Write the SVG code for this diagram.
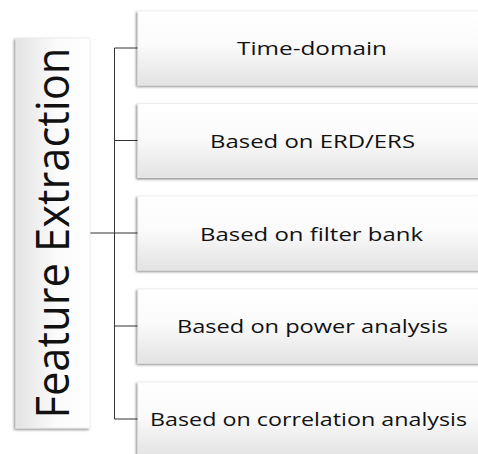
<svg xmlns="http://www.w3.org/2000/svg" width="478" height="454" viewBox="0 0 478 454">
  <defs>
    <linearGradient id="gv" x1="0" y1="0" x2="0" y2="1">
      <stop offset="0" stop-color="#ffffff"/>
      <stop offset="0.45" stop-color="#fbfbfb"/>
      <stop offset="1" stop-color="#e3e3e3"/>
    </linearGradient>
    <linearGradient id="gh" x1="1" y1="0" x2="0" y2="0">
      <stop offset="0" stop-color="#ffffff"/>
      <stop offset="0.45" stop-color="#fbfbfb"/>
      <stop offset="1" stop-color="#e3e3e3"/>
    </linearGradient>
    <filter id="sh" x="-10%" y="-10%" width="120%" height="130%">
      <feDropShadow dx="-1.5" dy="1.5" stdDeviation="1" flood-color="#000" flood-opacity="0.45"/>
    </filter>
  </defs>
  <style>
    .box { fill: url(#gv); stroke: #ececec; stroke-width: 0.8; filter: url(#sh); }
    .root { fill: url(#gh); stroke: #ececec; stroke-width: 0.8; filter: url(#sh); }
    .lbl { font-family: "Open Sans", "Noto Sans", sans-serif; font-size: 18.5px; fill: #111; text-anchor: middle; }
    .title { font-family: "Open Sans", "Noto Sans", sans-serif; font-size: 46px; fill: #111; text-anchor: middle; }
    .conn { stroke: #333; stroke-width: 1; fill: none; }
  </style>
  <rect width="478" height="454" fill="#ffffff"/>
  <g id="connectors">
    <path class="conn" d="M114.5 48 V419"/>
    <path class="conn" d="M90 233 H138"/>
    <path class="conn" d="M114.5 48 H138"/>
    <path class="conn" d="M114.5 140.5 H138"/>
    <path class="conn" d="M114.5 326 H138"/>
    <path class="conn" d="M114.5 419 H138"/>
  </g>
  <g id="root">
    <rect class="root" x="16" y="38" width="74" height="390"/>
    <text class="title" transform="translate(68.5,233) rotate(-90)" x="0" y="0" textLength="371" lengthAdjust="spacingAndGlyphs">Feature Extraction</text>
  </g>
  <g id="n1">
    <rect class="box" x="138" y="11" width="348" height="74"/>
    <text class="lbl" x="312" y="55" textLength="150" lengthAdjust="spacingAndGlyphs">Time-domain</text>
  </g>
  <g id="n2">
    <rect class="box" x="138" y="103.5" width="348" height="74"/>
    <text class="lbl" x="312.5" y="148" textLength="205" lengthAdjust="spacingAndGlyphs">Based on ERD/ERS</text>
  </g>
  <g id="n3">
    <rect class="box" x="138" y="196" width="348" height="74"/>
    <text class="lbl" x="311.5" y="240.5" textLength="223" lengthAdjust="spacingAndGlyphs">Based on filter bank</text>
  </g>
  <g id="n4">
    <rect class="box" x="138" y="289" width="348" height="74"/>
    <text class="lbl" x="312.5" y="333" textLength="271" lengthAdjust="spacingAndGlyphs">Based on power analysis</text>
  </g>
  <g id="n5">
    <rect class="box" x="138" y="382" width="348" height="74"/>
    <text class="lbl" x="308.5" y="426" textLength="317" lengthAdjust="spacingAndGlyphs">Based on correlation analysis</text>
  </g>
</svg>
